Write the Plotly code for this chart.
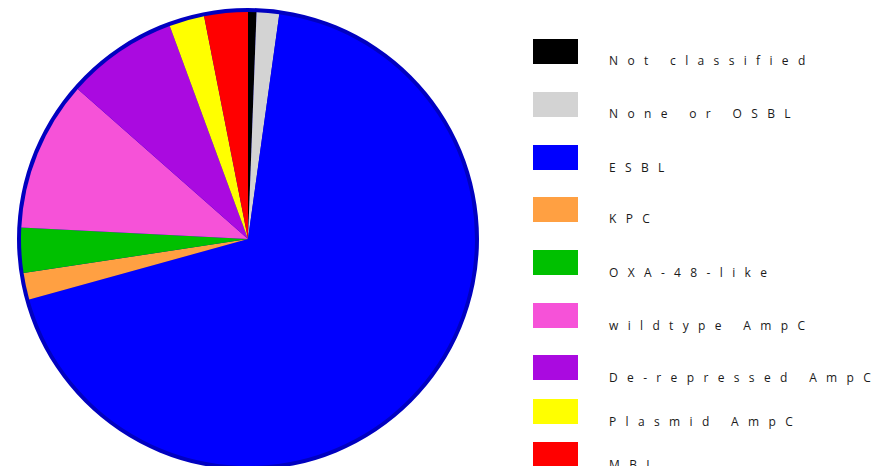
import plotly.graph_objects as go

# ---- data ----
categories = ["Not classified", "None or OSBL", "ESBL", "KPC", "OXA-48-like",
              "wildtype AmpC", "De-repressed AmpC", "Plasmid AmpC", "MBL"]
values = [0.6, 1.6, 68.5, 1.9, 3.2, 10.7, 7.9, 2.5, 3.1]
colors = ["#000000", "#D3D3D3", "#0000FF", "#FFA042", "#00C000",
          "#F652D8", "#AA0AE0", "#FFFF00", "#FF0000"]

# ---- layout constants (figure pixels; page adds an 8px body margin) ----
W, H = 895, 466
cx, cy = 240, 231          # pie centre (from top-left of figure)
r_out, r_in = 231, 227     # outline ring / pie radius
leg_x0, leg_w, leg_h = 525, 45, 25
leg_tops = [31, 84, 137, 189, 242, 295, 347, 391, 434]
txt_x, txt_dy = 599, 9.5


def dom(r):
    y0 = max(0.0, (H - (cy + r)) / H)
    y1 = min(1.0, (H - (cy - r)) / H)
    return dict(x=[(cx - r) / W, (cx + r) / W], y=[y0, y1])


def spaced(s):
    return "\u00a0\u00a0\u00a0".join(list(s))


fig = go.Figure()
# dark blue outline ring
fig.add_trace(go.Pie(values=[1], marker=dict(colors=["#0000C0"], line=dict(width=0)),
                     textinfo="none", hoverinfo="skip", showlegend=False,
                     domain=dom(r_out), sort=False))
# main pie
fig.add_trace(go.Pie(labels=categories, values=values,
                     marker=dict(colors=colors, line=dict(width=0)),
                     textinfo="none", showlegend=False, sort=False,
                     direction="clockwise", rotation=0,
                     domain=dom(r_in)))

shapes, annots = [], []
for cat, col, top in zip(categories, colors, leg_tops):
    shapes.append(dict(type="rect", xref="paper", yref="paper",
                       x0=leg_x0 / W, x1=(leg_x0 + leg_w) / W,
                       y0=1 - (top + leg_h) / H, y1=1 - top / H,
                       fillcolor=col, line=dict(width=0)))
    annots.append(dict(xref="paper", yref="paper", x=txt_x / W,
                       y=1 - (top + leg_h / 2 + txt_dy) / H,
                       xanchor="left", yanchor="middle", showarrow=False,
                       text=spaced(cat),
                       font=dict(family="Open Sans", size=12, color="#1a1a1a")))

fig.update_layout(width=W, height=H, margin=dict(l=0, r=0, t=0, b=0),
                  paper_bgcolor="white", plot_bgcolor="white",
                  shapes=shapes, annotations=annots)

fig.write_html("out.html")
